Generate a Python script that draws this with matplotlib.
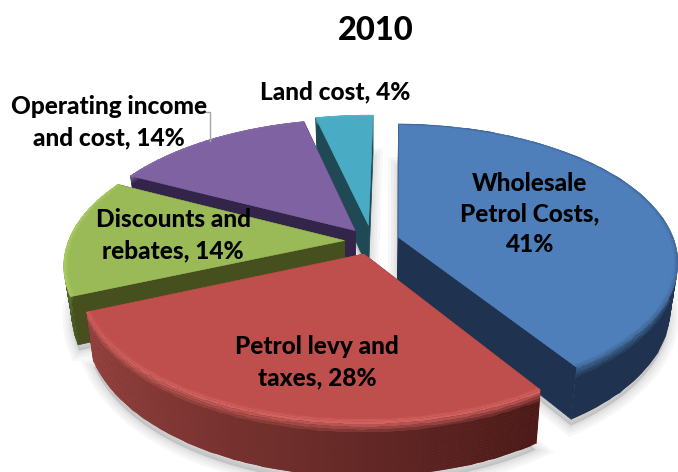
import numpy as np
import matplotlib
matplotlib.use('Agg')
import matplotlib.pyplot as plt
from matplotlib.patches import Polygon
from matplotlib.colors import to_rgb

#---data
title = '2010'
categories = ['Wholesale\nPetrol Costs,\n41%', 'Petrol levy and\ntaxes, 28%', 'Discounts and\nrebates, 14%',
              'Operating income\nand cost, 14%', 'Land cost, 4%']
shares = [41, 28, 14, 14, 4]

#---styling, one entry per slice
top_colors = ['#4E7FBB', '#BE4F4C', '#9ABA58', '#7F62A1', '#4AABC5']
rim_colors = ['#3F6593', '#D2625F', '#AAD060', '#8A6DAD', '#55B5CF']
wall_from = ['#1F3350', '#9A4542', '#5F7C30', '#33254A', '#1F4A55']
wall_to = ['#1F3350', '#4A1A18', '#46551F', '#33254A', '#1F4A55']
inner_colors = ['#1F3350', '#7A3230', '#46501F', '#33254A', '#1F4A55']
explode = [0.10, 0.10, 0.10, 0.10, 0.12]
label_xy = [(530, 214), (317, 362), (173, 235), (109, 122), (335, 92)]

#---fake 3d projection, all in image pixels
cx, cy = 372, 241
R = 276
tilt = 0.485
persp = 0.17
depth = 45
squeeze = 0.975
start = np.radians(1)

def project(u, v, drop=0.0):
    f = 1 / (1 + persp * v)
    x = R * u * f * (1 - (1 - squeeze) * drop)
    y = -R * tilt * v * f + depth * drop * f
    return cx + x, cy + y

fig = plt.figure(figsize=(6.78, 4.72), dpi=100)
ax = fig.add_axes([0, 0, 1, 1])
ax.set_xlim(0, 678)
ax.set_ylim(472, 0)
ax.axis('off')

# clockwise from 12 o'clock
edges = start + np.cumsum([0] + shares) / sum(shares) * 2 * np.pi
order = [4, 3, 2, 0, 1]  # back to front

for z, i in enumerate(order):
    a0, a1 = edges[i], edges[i + 1]
    mid = (a0 + a1) / 2
    ou, ov = explode[i] * np.sin(mid), explode[i] * np.cos(mid)
    ang = np.linspace(a0, a1, 90)
    arc_u, arc_v = ou + np.sin(ang), ov + np.cos(ang)

    zo = 2 + z
    # soft shadow under the slice
    sx, sy = project(np.r_[ou, arc_u], np.r_[ov, arc_v], 1.12)
    for lw in [14, 10, 6, 3]:
        ax.add_patch(Polygon(np.c_[sx, sy], closed=True, fc=(0, 0, 0, 0.03), ec=(0, 0, 0, 0.03),
                             lw=lw, zorder=1))

    # two flat side faces
    for a, col in [(a0, inner_colors[i]), (a1, inner_colors[i])]:
        eu, ev = ou + np.sin(a), ov + np.cos(a)
        p = [project(ou, ov), project(eu, ev), project(eu, ev, 1), project(ou, ov, 1)]
        ax.add_patch(Polygon(p, closed=True, fc=col, ec=col, lw=0.5, zorder=zo))

    # outer wall, shaded along the arc and down from the bevel
    drops = np.linspace(0, 1, 21)
    X = np.array([project(arc_u, arc_v, d)[0] for d in drops])
    Y = np.array([project(arc_u, arc_v, d)[1] for d in drops])
    c0, c1, hi = np.array(to_rgb(wall_from[i])), np.array(to_rgb(wall_to[i])), np.array(to_rgb(rim_colors[i]))
    # a0 end is the right/front end when the slice runs clockwise
    t = np.linspace(0, 1, len(ang) - 1)[:, None]
    wall = c1 * (1 - t) + c0 * t
    C = np.zeros((len(drops) - 1, len(ang) - 1, 3))
    for k in range(len(drops) - 1):
        w = min(1, k / 4)
        C[k] = hi * (1 - w) + wall * w
    ax.add_patch(Polygon(np.c_[np.r_[X[0], X[-1][::-1]], np.r_[Y[0], Y[-1][::-1]]], closed=True,
                         fc=wall.mean(axis=0), ec='none', zorder=zo))
    ax.pcolormesh(X, Y, C, shading='flat', antialiased=True, zorder=zo, linewidth=0)

    # top of the slice
    tx, ty = project(np.r_[ou, arc_u], np.r_[ov, arc_v])
    ax.add_patch(Polygon(np.c_[tx, ty], closed=True, fc=top_colors[i], ec=top_colors[i], lw=0.4, zorder=zo))
    # thin band just inside the rim
    radii = np.linspace(0.985, 1, 4)
    X2 = np.array([project(ou + r * np.sin(ang), ov + r * np.cos(ang))[0] for r in radii])
    Y2 = np.array([project(ou + r * np.sin(ang), ov + r * np.cos(ang))[1] for r in radii])
    base = np.array(to_rgb(top_colors[i]))
    C2 = np.zeros((len(radii) - 1, len(ang) - 1, 3))
    for k in range(len(radii) - 1):
        w = (k + 0.5) / (len(radii) - 1)
        C2[k] = base * (1 - w) + hi * w
    ax.pcolormesh(X2, Y2, C2, shading='flat', antialiased=True, zorder=zo, linewidth=0)

# leader line for the operating income label
ax.plot([205, 210, 210], [112, 112, 141], color='#A6A6A6', lw=1, zorder=20)

font = 'Lato'
for lab, (lx, ly) in zip(categories, label_xy):
    ax.text(lx, ly, lab, ha='center', va='center', family=font, weight='black', fontsize=17.6,
            color='black', linespacing=1.42, zorder=30)
ax.text(376, 30, title, ha='center', va='center', family=font, weight='black', fontsize=23.5, color='black', zorder=30)

fig.savefig('out.png', dpi=100)
